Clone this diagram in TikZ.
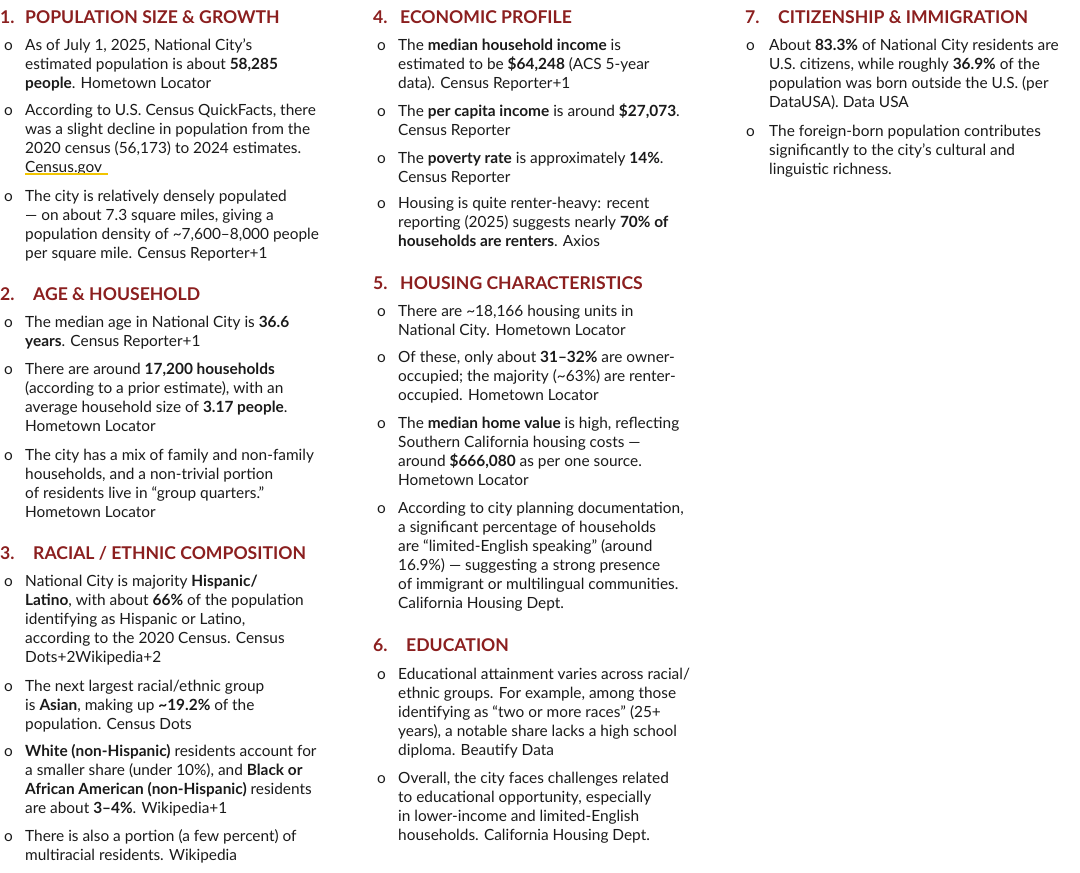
\documentclass[tikz,border=0pt]{standalone}
\usepackage{fontspec}
\setmainfont{Lato}
\definecolor{hd}{HTML}{8B1F1F}
\definecolor{txt}{HTML}{1A1A1A}
\newcommand\TL[3]{\node[body] at (#1,-#2-5) {#3};}
\newcommand\BU[2]{\node[body] at (#1-1,-#2-5) {o};}
\begin{document}
\begin{tikzpicture}[x=1pt,y=1pt,
 body/.style={anchor=base west,inner sep=0pt,font=\fontsize{15.4}{18}\selectfont,text=txt},
 head/.style={anchor=base west,inner sep=0pt,font=\fontsize{17.6}{20}\selectfont\bfseries,text=hd}]
\useasboundingbox (0,0) rectangle (1080,-873);
% ---------- column 1
\node[head] at (0,-23) {1.};\node[head] at (25,-23) {POPULATION SIZE \& GROWTH};
\BU{5}{45}\TL{25}{45}{As of July 1, 2025, National City’s}
\TL{25}{64}{estimated population is about \textbf{58,285}}
\TL{25}{83}{\textbf{people}. Hometown Locator}
\BU{5}{110}\TL{25}{110}{According to U.S. Census QuickFacts, there}
\TL{25}{129}{was a slight decline in population from the}
\TL{25}{148}{2020 census (56,173) to 2024 estimates.}
\TL{25}{167}{Census.gov}
\draw[line width=2.5pt,color={rgb,255:red,242;green,197;blue,0}] (25,-174) -- (108,-174);
\BU{5}{196}\TL{25}{196}{The city is relatively densely populated}
\TL{25}{215}{— on about 7.3 square miles, giving a}
\TL{25}{234}{population density of \textasciitilde7,600–8,000 people}
\TL{25}{253}{per square mile. Census Reporter+1}
\node[head] at (0,-300) {2.};\node[head] at (33,-300) {AGE \& HOUSEHOLD};
\BU{5}{322}\TL{25}{322}{The median age in National City is \textbf{36.6}}
\TL{25}{341}{\textbf{years}. Census Reporter+1}
\BU{5}{369}\TL{25}{369}{There are around \textbf{17,200 households}}
\TL{25}{388}{(according to a prior estimate), with an}
\TL{25}{407}{average household size of \textbf{3.17 people}.}
\TL{25}{426}{Hometown Locator}
\BU{5}{455}\TL{25}{455}{The city has a mix of family and non-family}
\TL{25}{474}{households, and a non-trivial portion}
\TL{25}{493}{of residents live in “group quarters.”}
\TL{25}{512}{Hometown Locator}
\node[head] at (0,-559) {3.};\node[head] at (33,-559) {RACIAL / ETHNIC COMPOSITION};
\BU{5}{581}\TL{25}{581}{National City is majority \textbf{Hispanic/}}
\TL{25}{600}{\textbf{Latino}, with about \textbf{66\%} of the population}
\TL{25}{619}{identifying as Hispanic or Latino,}
\TL{25}{638}{according to the 2020 Census. Census}
\TL{25}{657}{Dots+2Wikipedia+2}
\BU{5}{686}\TL{25}{686}{The next largest racial/ethnic group}
\TL{25}{705}{is \textbf{Asian}, making up \textbf{\textasciitilde19.2\%} of the}
\TL{25}{724}{population. Census Dots}
\BU{5}{751}\TL{25}{751}{\textbf{White (non-Hispanic)} residents account for}
\TL{25}{770}{a smaller share (under 10\%), and \textbf{Black or}}
\TL{25}{789}{\textbf{African American (non-Hispanic)} residents}
\TL{25}{808}{are about \textbf{3–4\%}. Wikipedia+1}
\BU{5}{836}\TL{25}{836}{There is also a portion (a few percent) of}
\TL{25}{855}{multiracial residents. Wikipedia}
% ---------- column 2
\node[head] at (373,-23) {4.};\node[head] at (400,-23) {ECONOMIC PROFILE};
\BU{378}{45}\TL{398}{45}{The \textbf{median household income} is}
\TL{398}{64}{estimated to be \textbf{\$64,248} (ACS 5-year}
\TL{398}{83}{data). Census Reporter+1}
\BU{378}{111}\TL{398}{111}{The \textbf{per capita income} is around \textbf{\$27,073}.}
\TL{398}{130}{Census Reporter}
\BU{378}{158}\TL{398}{158}{The \textbf{poverty rate} is approximately \textbf{14\%}.}
\TL{398}{177}{Census Reporter}
\BU{378}{203}\TL{398}{203}{Housing is quite renter-heavy: recent}
\TL{398}{222}{reporting (2025) suggests nearly \textbf{70\% of}}
\TL{398}{241}{\textbf{households are renters}. Axios}
\node[head] at (373,-289) {5.};\node[head] at (400,-289) {HOUSING CHARACTERISTICS};
\BU{378}{311}\TL{398}{311}{There are \textasciitilde18,166 housing units in}
\TL{398}{330}{National City. Hometown Locator}
\BU{378}{357}\TL{398}{357}{Of these, only about \textbf{31–32\%} are owner-}
\TL{398}{376}{occupied; the majority (\textasciitilde63\%) are renter-}
\TL{398}{395}{occupied. Hometown Locator}
\BU{378}{423}\TL{398}{423}{The \textbf{median home value} is high, reflecting}
\TL{398}{442}{Southern California housing costs —}
\TL{398}{461}{around \textbf{\$666,080} as per one source.}
\TL{398}{480}{Hometown Locator}
\BU{378}{508}\TL{398}{508}{According to city planning documentation,}
\TL{398}{527}{a significant percentage of households}
\TL{398}{546}{are “limited-English speaking” (around}
\TL{398}{565}{16.9\%) — suggesting a strong presence}
\TL{398}{584}{of immigrant or multilingual communities.}
\TL{398}{603}{California Housing Dept.}
\node[head] at (373,-651) {6.};\node[head] at (406,-651) {EDUCATION};
\BU{378}{674}\TL{398}{674}{Educational attainment varies across racial/}
\TL{398}{693}{ethnic groups. For example, among those}
\TL{398}{712}{identifying as “two or more races” (25+}
\TL{398}{731}{years), a notable share lacks a high school}
\TL{398}{750}{diploma. Beautify Data}
\BU{378}{778}\TL{398}{778}{Overall, the city faces challenges related}
\TL{398}{797}{to educational opportunity, especially}
\TL{398}{816}{in lower-income and limited-English}
\TL{398}{835}{households. California Housing Dept.}
% ---------- column 3
\node[head] at (745,-23) {7.};\node[head] at (778,-23) {CITIZENSHIP \& IMMIGRATION};
\BU{747}{45}\TL{769}{45}{About \textbf{83.3\%} of National City residents are}
\TL{769}{64}{U.S. citizens, while roughly \textbf{36.9\%} of the}
\TL{769}{83}{population was born outside the U.S. (per}
\TL{769}{102}{DataUSA). Data USA}
\BU{747}{131}\TL{769}{131}{The foreign-born population contributes}
\TL{769}{150}{significantly to the city’s cultural and}
\TL{769}{169}{linguistic richness.}
\end{tikzpicture}
\end{document}
